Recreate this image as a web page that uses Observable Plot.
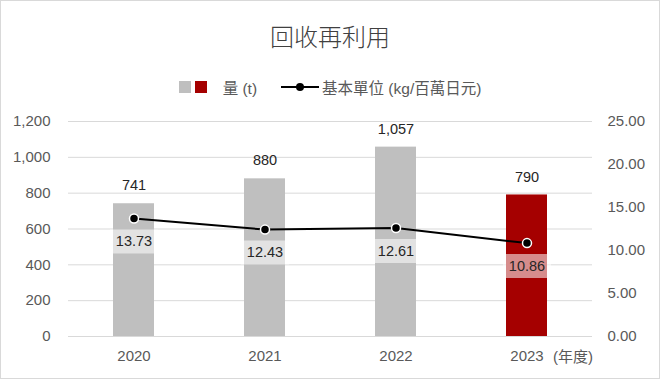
<!DOCTYPE html>
<html>
<head>
<meta charset="utf-8">
<script src="https://cdn.jsdelivr.net/npm/d3@7"></script>
<script src="https://cdn.jsdelivr.net/npm/@observablehq/plot@0.6"></script>
<style>
  html, body { margin: 0; padding: 0; background: #fff; }
  #wrap { position: relative; width: 660px; height: 379px; overflow: hidden; background: #fff;
          font-family: "Liberation Sans", Arial, "Noto Sans CJK TC", sans-serif; }
  #frame { position: absolute; left: 0; top: 0; width: 660px; height: 379px; box-sizing: border-box;
           border: 1px solid #d9d9d9; pointer-events: none; z-index: 5; }
  #title { position: absolute; left: 0; width: 660px; top: 22px; height: 28px; line-height: 28px;
           text-align: center; font-size: 24px; color: #404040;
           font-family: "Noto Sans CJK TC", sans-serif; font-weight: 300; }
  #legend { position: absolute; left: 0; width: 660px; top: 77px; height: 20px;
            display: flex; justify-content: center; align-items: center;
            font-size: 15.5px; color: #595959; }
  #legend .sw { width: 12px; height: 12px; display: inline-block; }
  #legend .txt { font-family: "Liberation Sans", Arial, "Noto Sans CJK TC", sans-serif; white-space: nowrap; }
  #chart { position: absolute; left: 0; top: 100px; }
</style>
</head>
<body>
<div id="wrap">
  <div id="frame"></div>
  <div id="title"></div>
  <div id="legend"></div>
  <div id="chart"></div>
</div>
<script>
// ---- data ----
const titleText = "回收再利用";
const years = ["2020", "2021", "2022", "2023"];
const amounts = [741, 880, 1057, 790];            // 量 (t)
const intensities = [13.73, 12.43, 12.61, 10.86]; // 基本單位 (kg/百萬日元)
const leftTicks = [0, 200, 400, 600, 800, 1000, 1200];
const rightTicks = [0, 5, 10, 15, 20, 25];
const amountLabel = "量 (t)";
const intensityLabel = "基本單位 (kg/百萬日元)";
const xUnitLabel = "(年度)";
const highlightYear = "2023";

// ---- styles ----
const grayFill = "#bfbfbf";
const redFill = "#a50000";
const axisColor = "#595959";
const gridColor = "#d9d9d9";
const labelColor = "#262626";

const leftMax = leftTicks[leftTicks.length - 1];
const rightMax = rightTicks[rightTicks.length - 1];
const k = leftMax / rightMax; // right axis -> left axis units

const rows = years.map((year, i) => ({year, amount: amounts[i], intensity: intensities[i]}));

document.getElementById("title").textContent = titleText;

// legend
const legend = document.getElementById("legend");
legend.innerHTML = `
  <span class="sw" style="background:${grayFill}"></span>
  <span class="sw" style="background:${redFill}; margin-left:4px"></span>
  <span class="txt" style="margin-left:16px">${amountLabel}</span>
  <svg width="38" height="12" style="margin-left:24px">
    <line x1="0" y1="6" x2="38" y2="6" stroke="#000" stroke-width="2"/>
    <circle cx="19" cy="6" r="4" fill="#000"/>
  </svg>
  <span class="txt" style="margin-left:3px">${intensityLabel}</span>`;

const boxSymbol = {
  draw(context) { context.rect(-24, -12, 48, 24); }
};

const plot = Plot.plot({
  width: 660,
  height: 279,
  marginTop: 21,
  marginBottom: 43,
  marginLeft: 68,
  marginRight: 68,
  style: {fontFamily: '"Liberation Sans", Arial, "Noto Sans CJK TC", sans-serif', fontSize: "14px", background: "transparent"},
  x: {type: "band", domain: years, paddingInner: 0.687, paddingOuter: 0.3435},
  y: {domain: [0, leftMax]},
  marks: [
    Plot.ruleY(leftTicks, {stroke: gridColor, strokeWidth: 1}),
    Plot.barY(rows, {x: "year", y: "amount", fill: d => d.year === highlightYear ? redFill : grayFill}),
    Plot.text(rows, {x: "year", y: "amount", text: d => d3.format(",")(d.amount), dy: -18,
      lineAnchor: "middle", fontSize: 14.5, fill: labelColor}),
    Plot.line(rows, {x: "year", y: d => d.intensity * k, stroke: "#000", strokeWidth: 2}),
    Plot.dot(rows, {x: "year", y: d => d.intensity * k, r: 4.5, fill: "#000", stroke: "#fff", strokeWidth: 1.5}),
    Plot.dot(rows, {x: "year", y: d => d.intensity * k, symbol: boxSymbol, r: 5, dy: 23,
      fill: "#fff", fillOpacity: 0.55, stroke: null}),
    Plot.text(rows, {x: "year", y: d => d.intensity * k, text: d => d.intensity.toFixed(2), dy: 23,
      lineAnchor: "middle", fontSize: 14.5, fill: labelColor}),
    Plot.axisY({anchor: "left", ticks: leftTicks, tickSize: 0, tickPadding: 18, tickFormat: d3.format(","),
      fontSize: 15, color: axisColor, label: null}),
    Plot.axisY({anchor: "right", ticks: rightTicks.map(v => v * k), tickSize: 0, tickPadding: 15,
      tickFormat: d => (d / k).toFixed(2), fontSize: 15, color: axisColor, label: null}),
    Plot.axisX({tickSize: 0, tickPadding: 14, fontSize: 15, color: axisColor, label: null}),
    Plot.text([xUnitLabel], {x: () => highlightYear, frameAnchor: "bottom", dx: 26, dy: 21,
      textAnchor: "start", lineAnchor: "middle", fontSize: 15, fill: axisColor,
      fontFamily: '"Liberation Sans", Arial, "Noto Sans CJK TC", sans-serif'})
  ]
});
document.getElementById("chart").appendChild(plot);
</script>
</body>
</html>
